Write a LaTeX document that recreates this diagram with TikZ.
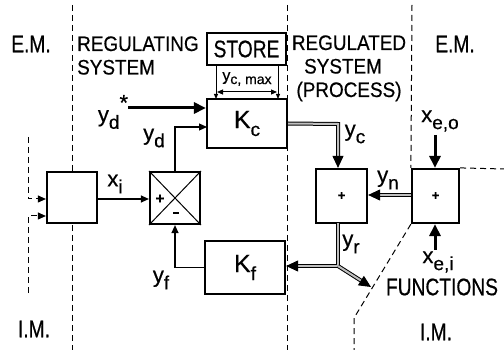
\documentclass[tikz,border=0pt]{standalone}
\usepackage{fontspec}
\setmainfont{Liberation Sans}[FakeBold=0.5]
\newfontfamily\capf{Liberation Sans}[FakeStretch=0.8, FakeBold=0.5]
\newfontfamily\hdf{Liberation Sans}[FakeStretch=0.9, FakeBold=0.5]
\usetikzlibrary{arrows.meta}
\newcommand{\sbs}[2]{#1\raisebox{-0.6ex}{\fontsize{19}{20}\selectfont #2}}
\begin{document}
\begin{tikzpicture}[x=1pt,y=-1pt,
  blk/.style={draw, line width=2.2pt, fill=white, inner sep=0pt},
  dsh/.style={dash pattern=on 6pt off 4pt, line width=1pt},
  tarr/.style={line width=1.2pt, -{Triangle[length=8pt,width=7pt]}},
  karr/.style={line width=3pt, -{Triangle[length=12pt,width=11pt]}},
  dbl/.style={line width=1pt, double=black!25, double distance=2pt},
  darr/.style={dbl, -{Triangle[length=12pt,width=11pt]}},
  capt/.style={font=\capf\fontsize{24}{26}\selectfont, inner sep=0pt},
  capl/.style={font=\hdf\fontsize{21}{23}\selectfont, inner sep=0pt},
  lbl/.style={font=\fontsize{22}{24}\selectfont, inner sep=0pt}]
\useasboundingbox (0,0) rectangle (504,350);
% dashed boundaries
\coordinate (d1t) at (72,5);
\coordinate (d1b) at (72,350);
\coordinate (d2t) at (28,137);
\coordinate (d2c) at (28,199);
\coordinate (d3t) at (28,293);
\coordinate (d3c) at (28,216);
\coordinate (d4t) at (287,5);
\coordinate (d4b) at (287,350);
\coordinate (d5t) at (412,5);
\coordinate (d6r) at (504,169);
\coordinate (d7m) at (354,318);
\coordinate (d7b) at (354,350);
\draw[dsh] (d1t) -- (d1b);
\draw[dsh] (d4t) -- (d4b);
% blocks
\node[blk, minimum width=50pt, minimum height=51pt] (L) at (72,197.5) {};
\node[blk, minimum width=50pt, minimum height=52pt] (X) at (175,198) {};
\node[blk, minimum width=80pt, minimum height=49pt] (Kc) at (247,123.5) {};
\node[blk, minimum width=79pt, minimum height=32pt] (St) at (246.5,49) {};
\node[blk, minimum width=80pt, minimum height=53pt] (Kf) at (245,267.5) {};
\node[blk, minimum width=51pt, minimum height=54pt] (P1) at (341.5,196) {};
\node[blk, minimum width=47pt, minimum height=54pt] (P2) at (435.5,196) {};
\draw[line width=1pt] (X.north west) -- (X.south east) (X.north east) -- (X.south west);
% dashed around blocks
\draw[dsh, -{Triangle[length=8pt,width=7pt]}] (d2t) -- (d2c) -- (d2c -| L.west);
\draw[dsh, -{Triangle[length=8pt,width=7pt]}] (d3t) -- (d3c) -- (d3c -| L.west);
\draw[dsh] (d5t) -- (P2.north west);
\draw[dsh] (P2.north east) -- (d6r);
\draw[dsh] (P2.south west) -- (d7m) -- (d7b);
% texts in blocks
\node[capt] (stt) at (St.center) {STORE};
\node[lbl, font=\fontsize{25}{27}\selectfont] (kct) at (Kc.center) {\sbs{K}{c}};
\node[lbl, font=\fontsize{25}{27}\selectfont] (kft) at (Kf.center) {\sbs{K}{f}};
\node[lbl, font=\bfseries\fontsize{15}{15}\selectfont] (xp) at (160,199) {+};
\node[lbl] (xm) at (176,213) {\rule{6pt}{1.6pt}};
\node[lbl, font=\bfseries\fontsize{13}{13}\selectfont] (p1t) at (P1.center) {+};
\node[lbl, font=\bfseries\fontsize{13}{13}\selectfont] (p2t) at (P2.center) {+};
% store inner links
\coordinate (s1a) at (216,65);
\coordinate (s1b) at (216,99);
\coordinate (s2a) at (278,65);
\coordinate (s2b) at (278,99);
\coordinate (s1m) at (217,92);
\coordinate (s2m) at (277,92);
\draw[line width=1pt, -{Triangle[length=5pt,width=4pt]}] (s1a) -- (s1b);
\draw[line width=1pt, -{Triangle[length=5pt,width=4pt]}] (s2a) -- (s2b);
\draw[line width=1pt, {Triangle[length=6pt,width=5pt]}-{Triangle[length=6pt,width=5pt]}] (s1m) -- (s2m);
\node[lbl, font=\fontsize{16}{17}\selectfont] (ycm) at (247,79) {y\raisebox{-0.4ex}{\fontsize{14}{15}\selectfont c, max}};
% signals
\coordinate (yds) at (128,108);
\draw[karr] (yds) -- (yds -| Kc.west);
\coordinate (kcin) at (207,127);
\draw[tarr] (X.north) |- (kcin);
\draw[tarr] (L.east |- 0,199) -- (X.west |- 0,199);
\draw[tarr] (Kf.west) -| (X.south);
\coordinate (ycx) at (338,124);
\draw[darr] (Kc.east) -- (ycx) -- (ycx |- P1.north);
\draw[darr] (P2.west |- 0,195) -- (P1.east |- 0,195);
\coordinate (xeo) at (435,135);
\coordinate (xei) at (435,250);
\draw[karr] (xeo) -- (xeo |- P2.north);
\draw[karr] (xei) -- (xei |- P2.south);
\coordinate (yrt) at (338,223);
\coordinate (yrj) at (338,266);
\coordinate (fn) at (371,287);
\draw[darr] (yrt) -- (yrj) -- (yrj -| Kf.east);
\draw[darr] (yrj) -- (fn);
% labels
\node[lbl] (lyds) at (113,112) {\sbs{y}{d}\raisebox{1.0ex}{*}};
\node[lbl] (lyd) at (154,138) {\sbs{y}{d}};
\node[lbl] (lxi) at (115,184) {\sbs{x}{i}};
\node[lbl] (lyf) at (161,280) {\sbs{y}{f}};
\node[lbl] (lyc) at (355,134) {\sbs{y}{c}};
\node[lbl] (lyn) at (388,180) {\sbs{y}{n}};
\node[lbl] (lyr) at (351,244) {\sbs{y}{r}};
\node[lbl] (lxeo) at (440,121) {\sbs{x}{e,o}};
\node[lbl] (lxei) at (438,262) {\sbs{x}{e,i}};
\node[capt] (fun) at (442,287) {FUNCTIONS};
\node[capt] (em1) at (31,44) {E.M.};
\node[capt] (em2) at (455,44) {E.M.};
\node[capt] (im1) at (34,329) {I.M.};
\node[capt] (im2) at (436,332) {I.M.};
\node[capl, anchor=base west] (reg1) at (77,51) {REGULATING};
\node[capl, anchor=base west] (reg2) at (77,74.5) {SYSTEM};
\node[capl, anchor=base] (rgd1) at (349,50) {REGULATED};
\node[capl, anchor=base] (rgd2) at (343,73.5) {SYSTEM};
\node[capl, anchor=base] (rgd3) at (349,97) {(PROCESS)};
\end{tikzpicture}
\end{document}
